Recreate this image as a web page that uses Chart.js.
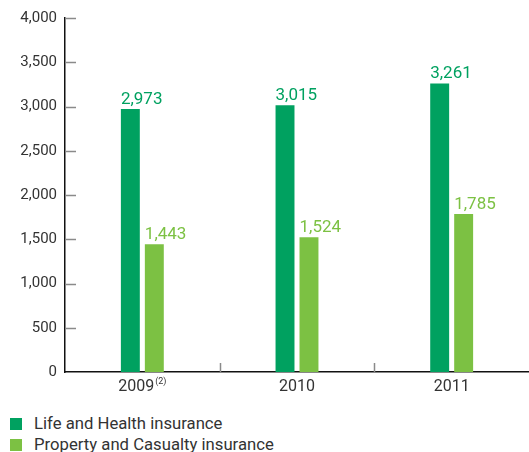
<!DOCTYPE html>
<html>
<head>
<meta charset="utf-8">
<script src="https://cdn.jsdelivr.net/npm/chart.js@4/dist/chart.umd.min.js"></script>
<style>
  html, body { margin: 0; padding: 0; background: #fff; }
  body { width: 529px; height: 452px; position: relative; overflow: hidden; font-family: Roboto, "Liberation Sans", sans-serif; }
  #wrap { position: absolute; left: 0; top: 0; width: 529px; height: 400px; }
  .legend { position: absolute; left: 10px; color: #333; font-size: 16.7px; line-height: 16px; }
  .legend span.sw { position: absolute; left: 0; top: 2px; width: 12px; height: 12px; }
  .legend span.tx { position: absolute; left: 24px; top: 0; white-space: nowrap; }
</style>
</head>
<body>
<div id="wrap"><canvas id="c" width="529" height="400"></canvas></div>
<div id="legend"></div>
<script>
// Premiums by segment, in millions
const years = ['2009', '2010', '2011'];
const yearNotes = ['(2)', '', ''];
const lifeHealth = [2973, 3015, 3261];
const propertyCasualty = [1443, 1524, 1785];
const seriesNames = ['Life and Health insurance', 'Property and Casualty insurance'];
const seriesColors = ['#00A160', '#7CC143'];
const yTicks = [0, 500, 1000, 1500, 2000, 2500, 3000, 3500, 4000];

const FONT = 'Roboto, "Liberation Sans", sans-serif';
const fmt = v => v.toLocaleString('en-US');

// Inward tick marks on both axes, category labels with footnote markers, value labels
const decorations = {
  id: 'decorations',
  afterDatasetsDraw(chart) {
    const ctx = chart.ctx;
    const ys = chart.scales.y, xs = chart.scales.x;
    const area = chart.chartArea;
    ctx.save();
    ctx.strokeStyle = '#8a8a8a';
    ctx.lineWidth = 1.5;
    yTicks.forEach(v => {
      if (v === 0) return;
      const py = Math.round(ys.getPixelForValue(v)) + 0.5;
      ctx.beginPath(); ctx.moveTo(area.left, py); ctx.lineTo(area.left + 11, py); ctx.stroke();
    });
    for (let i = 0; i < years.length - 1; i++) {
      const px = Math.round((xs.getPixelForValue(i) + xs.getPixelForValue(i + 1)) / 2) + 0.5;
      ctx.beginPath(); ctx.moveTo(px, area.bottom); ctx.lineTo(px, area.bottom - 9); ctx.stroke();
    }
    // category labels
    ctx.fillStyle = '#333';
    ctx.textBaseline = 'alphabetic';
    years.forEach((y, i) => {
      const cx = xs.getPixelForValue(i);
      ctx.font = '16px ' + FONT;
      const w1 = ctx.measureText(y).width;
      ctx.font = '9px ' + FONT;
      const w2 = yearNotes[i] ? ctx.measureText(yearNotes[i]).width + 1 : 0;
      const x0 = cx - (w1 + w2) / 2;
      ctx.font = '16px ' + FONT;
      ctx.textAlign = 'left';
      ctx.fillText(y, x0, area.bottom + 19);
      if (yearNotes[i]) {
        ctx.font = '9px ' + FONT;
        ctx.fillText(yearNotes[i], x0 + w1 + 1, area.bottom + 12);
      }
    });
    // value labels above bars
    ctx.font = '17px ' + FONT;
    ctx.textAlign = 'left';
    chart.data.datasets.forEach((ds, di) => {
      const meta = chart.getDatasetMeta(di);
      ctx.fillStyle = ds.backgroundColor;
      meta.data.forEach((bar, i) => {
        ctx.fillText(fmt(ds.data[i]), bar.x - bar.width / 2, bar.y - 5);
      });
    });
    ctx.restore();
  }
};

new Chart(document.getElementById('c'), {
  type: 'bar',
  data: {
    labels: years,
    datasets: [
      { label: seriesNames[0], data: lifeHealth, backgroundColor: seriesColors[0] },
      { label: seriesNames[1], data: propertyCasualty, backgroundColor: seriesColors[1] }
    ]
  },
  options: {
    responsive: false,
    animation: false,
    devicePixelRatio: 1,
    categoryPercentage: 0.31,
    barPercentage: 0.79,
    layout: { padding: { top: 18, right: 0, left: 0, bottom: 0 } },
    plugins: { legend: { display: false }, tooltip: { enabled: false } },
    scales: {
      x: {
        grid: { display: false, drawTicks: false },
        border: { display: true, color: '#111', width: 1.5 },
        ticks: { display: false },
        afterFit: s => { s.height = 28; }
      },
      y: {
        min: 0, max: 4000,
        afterBuildTicks: s => { s.ticks = yTicks.map(v => ({ value: v })); },
        grid: { display: false, drawTicks: false },
        border: { display: true, color: '#111', width: 1.5 },
        ticks: {
          padding: 8,
          color: '#333',
          font: { family: FONT, size: 15 },
          callback: v => fmt(v)
        },
        afterFit: s => { s.width = 65; }
      }
    }
  },
  plugins: [decorations]
});

// Legend below the plot
const legend = document.getElementById('legend');
seriesNames.forEach((name, i) => {
  const row = document.createElement('div');
  row.className = 'legend';
  row.style.top = (416 + i * 21) + 'px';
  row.innerHTML = '<span class="sw" style="background:' + seriesColors[i] + '"></span><span class="tx"></span>';
  row.querySelector('.tx').textContent = name;
  legend.appendChild(row);
});
</script>
</body>
</html>
